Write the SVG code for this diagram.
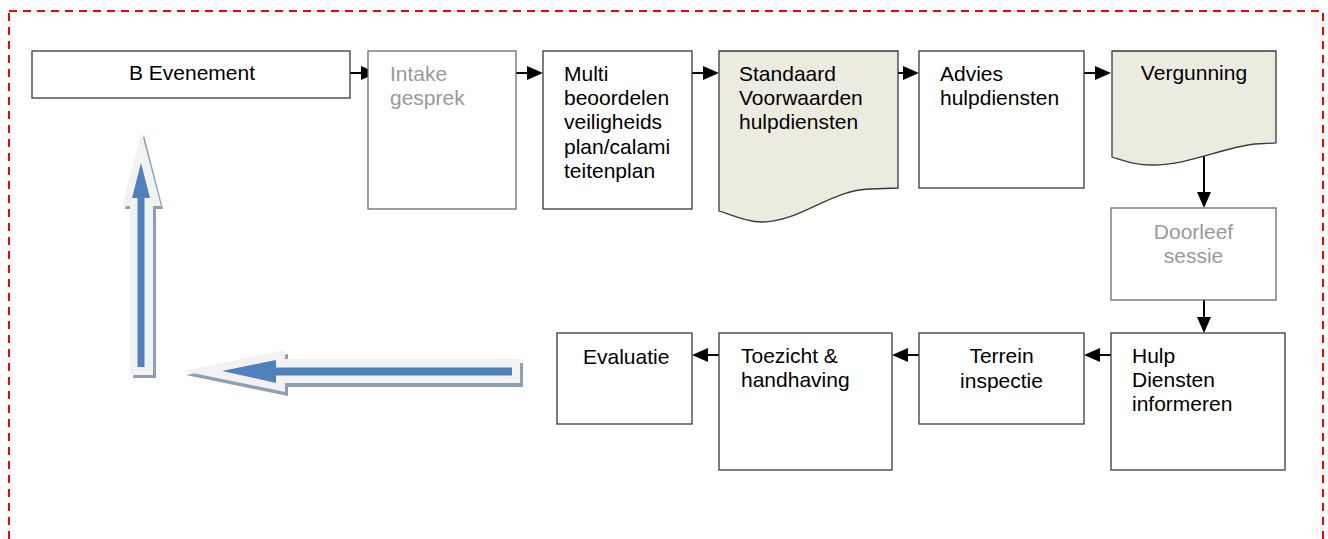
<svg xmlns="http://www.w3.org/2000/svg" width="1328" height="539" viewBox="0 0 1328 539">
  <style>
    .box { fill: #ffffff; stroke: #3a3a3a; stroke-width: 1.3; }
    .box-soft { fill: #ffffff; stroke: #6a6a6a; stroke-width: 1.3; }
    .doc { fill: #ecebe0; stroke: #3a3a3a; stroke-width: 1.3; }
    .lbl { font-family: "Liberation Sans", Arial, sans-serif; font-size: 21px; fill: #000000; }
    .lbl-soft { font-family: "Liberation Sans", Arial, sans-serif; font-size: 21px; fill: #999999; }
    .mid { text-anchor: middle; }
    .conn { fill: none; stroke: #000000; stroke-width: 2; marker-end: url(#ah); }
    .big-shadow { fill: #8e9eb4; }
    .big-rim { fill: #f2f2f2; }
    .big-core { fill: #4f81bd; }
  </style>
  <defs>
    <marker id="ah" viewBox="0 0 16 14" refX="6" refY="7" markerWidth="16" markerHeight="14" markerUnits="userSpaceOnUse" orient="auto">
      <path d="M0,0 L16,7 L0,14 z" fill="#000000"/>
    </marker>
  </defs>

  <rect width="1328" height="539" fill="#ffffff"/>

  <!-- dashed frame -->
  <rect x="9" y="11" width="1314" height="560" fill="none" stroke="#ff0000" stroke-width="2" stroke-dasharray="8,6"/>

  <!-- large return arrows -->
  <g id="return-arrows">
    <polygon class="big-shadow" points="144,135 163,209 156,209 156,378 133,378 133,209 125,209"/>
    <polygon class="big-rim" points="141.5,132 161,206 153,206 153,375 130,375 130,206 122,206"/>
    <polygon class="big-core" points="141,163 150,198 144.5,198 144.5,367 137.5,367 137.5,198 132,198"/>

    <polygon class="big-shadow" points="186,375 288,354 288,363 523,363 523,387 288,387 288,396"/>
    <polygon class="big-rim" points="183,371 285,350 285,359 520,359 520,383 285,383 285,392"/>
    <polygon class="big-core" points="222,371 276,360 276,367.5 512,367.5 512,375.5 276,375.5 276,383"/>
  </g>

  <g id="connectors">
    <line class="conn" x1="350" y1="73" x2="367" y2="73"/>
    <line class="conn" x1="516" y1="73" x2="533" y2="73"/>
    <line class="conn" x1="692" y1="73" x2="709" y2="73"/>
    <line class="conn" x1="893" y1="73" x2="909" y2="73"/>
    <line class="conn" x1="1083" y1="73" x2="1101" y2="73"/>
    <line class="conn" x1="1204" y1="155" x2="1204" y2="198"/>
    <line class="conn" x1="1204" y1="300" x2="1204" y2="323"/>
    <line class="conn" x1="1111" y1="355" x2="1094" y2="355"/>
    <line class="conn" x1="919" y1="355" x2="902" y2="355"/>
    <line class="conn" x1="719" y1="355" x2="702" y2="355"/>
  </g>

  <g id="b-evenement">
    <rect class="box" x="32" y="51" width="318" height="47"/>
    <text class="lbl mid" x="192" y="80">B Evenement</text>
  </g>

  <g id="intake">
    <rect class="box-soft" x="368" y="51" width="148" height="158"/>
    <text class="lbl-soft" x="390" y="81">Intake</text>
    <text class="lbl-soft" x="390" y="105">gesprek</text>
  </g>

  <g id="multi">
    <rect class="box" x="543" y="51" width="149" height="158"/>
    <text class="lbl" x="564" y="81">Multi</text>
    <text class="lbl" x="564" y="105">beoordelen</text>
    <text class="lbl" x="564" y="129">veiligheids</text>
    <text class="lbl" x="564" y="154">plan/calami</text>
    <text class="lbl" x="564" y="178">teitenplan</text>
  </g>

  <g id="standaard">
    <path class="doc" d="M719,51 H898 V188 L870,189 C830,190 800,222 762,222 C750,222 740,218 719,211 Z"/>
    <text class="lbl" x="739" y="81">Standaard</text>
    <text class="lbl" x="739" y="105">Voorwaarden</text>
    <text class="lbl" x="739" y="129">hulpdiensten</text>
  </g>

  <g id="advies">
    <rect class="box" x="919" y="51" width="165" height="137"/>
    <text class="lbl" x="940" y="81">Advies</text>
    <text class="lbl" x="940" y="105">hulpdiensten</text>
  </g>

  <g id="vergunning">
    <path class="doc" d="M1112,51 H1276 V143 L1255,144 C1220,148 1190,165 1152,165 C1135,165 1125,161 1112,157 Z"/>
    <text class="lbl mid" x="1194" y="80">Vergunning</text>
  </g>

  <g id="doorleef">
    <rect class="box-soft" x="1111" y="208" width="165" height="92"/>
    <text class="lbl-soft mid" x="1193.5" y="239">Doorleef</text>
    <text class="lbl-soft mid" x="1193.5" y="263">sessie</text>
  </g>

  <g id="hulp">
    <rect class="box" x="1111" y="333" width="174" height="137"/>
    <text class="lbl" x="1132" y="363">Hulp</text>
    <text class="lbl" x="1132" y="387">Diensten</text>
    <text class="lbl" x="1132" y="411">informeren</text>
  </g>

  <g id="terrein">
    <rect class="box" x="919" y="333" width="165" height="91"/>
    <text class="lbl mid" x="1001.5" y="363">Terrein</text>
    <text class="lbl mid" x="1001.5" y="388">inspectie</text>
  </g>

  <g id="toezicht">
    <rect class="box" x="719" y="333" width="173" height="137"/>
    <text class="lbl" x="741" y="363">Toezicht &amp;</text>
    <text class="lbl" x="741" y="387">handhaving</text>
  </g>

  <g id="evaluatie">
    <rect class="box" x="557" y="333" width="135" height="91"/>
    <text class="lbl" x="583" y="364">Evaluatie</text>
  </g>
</svg>
